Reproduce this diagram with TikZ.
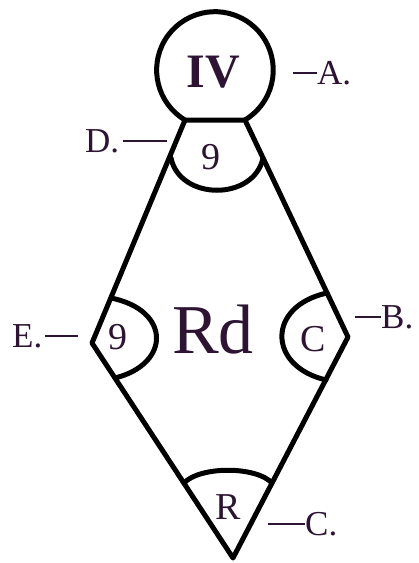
\documentclass[tikz,border=0pt]{standalone}
\usepackage{fontspec}
\setmainfont{Liberation Serif}
\definecolor{ink}{RGB}{45,20,50}
\begin{document}
\begin{tikzpicture}[x=1pt,y=-1pt,
  shape line/.style={line width=5pt, line join=round, line cap=round, black},
  leader/.style={line width=1.6pt, ink},
  lbl/.style={inner sep=0pt, text=ink, font=\fontsize{35}{35}\selectfont},
  inlbl/.style={inner sep=0pt, text=ink, font=\fontsize{38}{38}\selectfont}]
\useasboundingbox (0,0) rectangle (419,563);
% vertices
\coordinate (T1) at (185,120);
\coordinate (T2) at (245,120);
\coordinate (E) at (92,343);
\coordinate (B) at (348,337);
\coordinate (V) at (233,558);
% circle cap (center (215,70))
\draw[shape line] (T1) arc[start angle=120.9, end angle=419.1, radius=58.3];
% rhombus
\draw[shape line] (T1) -- (T2) -- (B) -- (V) -- (E) -- cycle;
% angle arcs
\draw[shape line] (171,158) .. controls (180,201) and (254,201) .. (263,158);
\draw[shape line] (111,298) .. controls (171,310) and (171,364) .. (115,378);
\draw[shape line] (327,293) .. controls (267,306) and (267,366) .. (326,380);
\draw[shape line] (184,483) .. controls (200,466) and (256,466) .. (272,483);
% inner labels
\node[inner sep=0pt, text=ink, font=\fontsize{48}{48}\selectfont\bfseries] (iv) at (213,72) {IV};
\node[inner sep=0pt, text=ink, font=\fontsize{70}{70}\selectfont] (rd) at (213,330) {Rd};
\node[inlbl] (n9a) at (211,157) {9};
\node[inlbl] (n9b) at (118,337) {9};
\node[inlbl] (nC) at (313,339) {C};
\node[inlbl] (nR) at (228,507) {R};
% outer labels with leaders
\node[lbl, anchor=west] (labA) at (317,73) {A.};
\coordinate (dA) at (293,73);
\draw[leader] (labA.west) -- (dA);
\node[lbl, anchor=west] (labB) at (381,317) {B.};
\coordinate (dB) at (355,317);
\draw[leader] (labB.west) -- (dB);
\node[lbl, anchor=west] (labC) at (305,524) {C.};
\coordinate (dC) at (268,524);
\draw[leader] (labC.west) -- (dC);
\node[lbl, anchor=west] (labD) at (85,141) {D.};
\coordinate (dD) at (167,141);
\draw[leader] ([xshift=4pt]labD.east) -- (dD);
\node[lbl, anchor=west] (labE) at (12,336) {E.};
\coordinate (dE) at (78,336);
\draw[leader] ([xshift=2pt]labE.east) -- (dE);
\end{tikzpicture}
\end{document}
